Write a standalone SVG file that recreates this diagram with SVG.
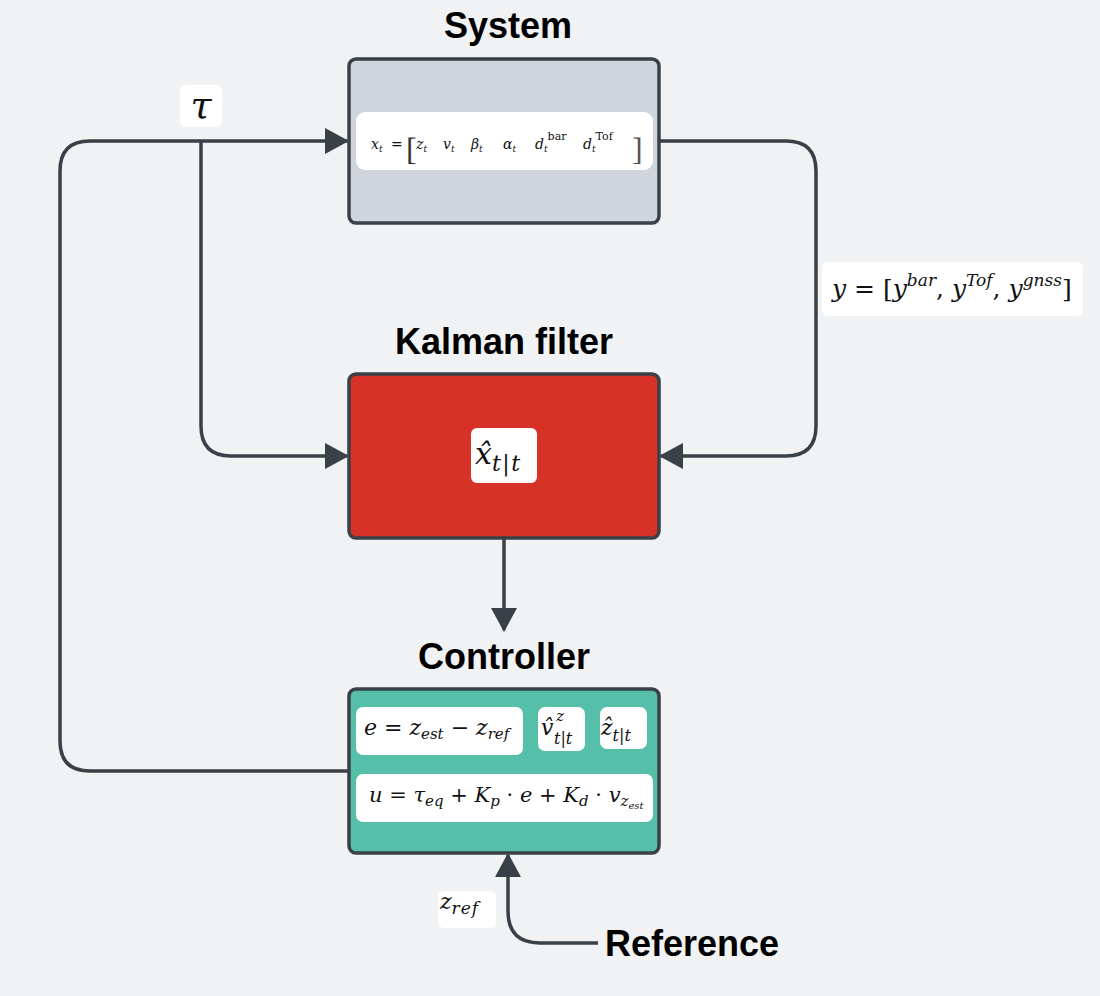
<svg xmlns="http://www.w3.org/2000/svg" width="1100" height="996" viewBox="0 0 1100 996">
<defs>
<marker id="arr" markerWidth="24" markerHeight="26" refX="22" refY="13" orient="auto" markerUnits="userSpaceOnUse">
<path d="M0,0 L24,13 L0,26 Z" fill="#3a4048"/>
</marker>
<style>
.title{font-family:"Liberation Sans",Arial,sans-serif;font-weight:bold;font-size:36px;fill:#000;text-anchor:middle}
.box{stroke:#3a4048;stroke-width:3.5}
.lbl{fill:#fff}
.m{font-family:"DejaVu Serif","Liberation Serif",serif;font-style:italic;fill:#111}
.r{font-style:normal}
.edge{fill:none;stroke:#3a4048;stroke-width:3.5}
</style>
</defs>
<rect width="1100" height="996" fill="#f1f2f4"/>

<g id="connectors">
<path class="edge" d="M349,771 H90 Q60,771 60,741 V171 Q60,141 90,141 H347" marker-end="url(#arr)"/>
<path class="edge" d="M201,141 V426 Q201,456 231,456 H347" marker-end="url(#arr)"/>
<path class="edge" d="M659,141 H786 Q816,141 816,171 V426 Q816,456 786,456 H661" marker-end="url(#arr)"/>
<path class="edge" d="M504,538 V630" marker-end="url(#arr)"/>
<path class="edge" d="M598,943 H540 Q508,943 508,911 V855" marker-end="url(#arr)"/>
</g>

<g id="tau-label">
<rect class="lbl" x="180" y="85" width="42" height="42" rx="6"/>
<text class="m" x="201" y="118" font-size="38" text-anchor="middle">τ</text>
</g>

<g id="y-label">
<rect class="lbl" x="822" y="262" width="261" height="54" rx="6"/>
<text class="m" x="832" y="297" font-size="25">y<tspan class="r"> = [</tspan>y<tspan dy="-11" font-size="17">bar</tspan><tspan dy="11" class="r">, </tspan>y<tspan dy="-11" font-size="17">Tof</tspan><tspan dy="11" class="r">, </tspan>y<tspan dy="-11" font-size="17">gnss</tspan><tspan dy="11" class="r">]</tspan></text>
</g>

<g id="zref-label">
<rect class="lbl" x="438" y="891" width="58" height="37" rx="6"/>
<text class="m" x="440" y="909" font-size="22">z<tspan dy="5" font-size="17" letter-spacing="1">ref</tspan></text>
</g>

<g id="system">
<text class="title" x="508" y="38">System</text>
<rect class="box" x="349" y="59" width="310" height="164" rx="7" fill="#d0d4dd"/>
<rect class="lbl" x="356" y="112" width="297" height="58" rx="9"/>
<text class="m" font-size="14" y="149">
<tspan x="371">x</tspan><tspan font-size="9" dy="3">t</tspan>
<tspan class="r" x="391" dy="-3">=</tspan>
<tspan x="416">z</tspan><tspan font-size="9" dy="3">t</tspan>
<tspan x="443" dy="-3">v</tspan><tspan font-size="9" dy="3">t</tspan>
<tspan x="471" dy="-3">β</tspan><tspan font-size="9" dy="3">t</tspan>
<tspan x="503" dy="-3">α</tspan><tspan font-size="9" dy="3">t</tspan>
<tspan x="535" dy="-3">d</tspan><tspan font-size="9" dy="3">t</tspan><tspan class="r" font-size="11" dy="-12">bar</tspan>
<tspan x="583" dy="9">d</tspan><tspan font-size="9" dy="3">t</tspan><tspan class="r" font-size="11" dy="-12">Tof</tspan>
</text>
<text class="r" font-family="Liberation Serif,serif" font-size="32" x="406" y="160" fill="#333">[</text>
<text class="r" font-family="Liberation Serif,serif" font-size="32" x="632" y="160" fill="#555">]</text>
</g>

<g id="kalman">
<text class="title" x="504" y="354">Kalman filter</text>
<rect class="box" x="349" y="374" width="310" height="164" rx="7" fill="#d63228"/>
<rect class="lbl" x="471" y="428" width="66" height="55" rx="6"/>
<text class="m" x="475" y="464" font-size="30">x̂<tspan dy="7" font-size="22" letter-spacing="1.5">t|t</tspan></text>
</g>

<g id="controller">
<text class="title" x="504" y="669">Controller</text>
<rect class="box" x="349" y="689" width="310" height="164" rx="7" fill="#55bfa9"/>
<rect class="lbl" x="356" y="707" width="167" height="48" rx="7"/>
<text class="m" x="364" y="735" font-size="22">e<tspan class="r"> = </tspan>z<tspan dy="4" font-size="15">est</tspan><tspan class="r" dy="-4"> − </tspan>z<tspan dy="4" font-size="15">ref</tspan></text>
<rect class="lbl" x="538" y="707" width="47" height="44" rx="7"/>
<text class="m" x="541" y="735" font-size="22">v̂</text>
<text class="m" x="556" y="721" font-size="15">z</text>
<text class="m" x="554" y="744" font-size="16">t|t</text>
<rect class="lbl" x="600" y="707" width="47" height="42" rx="7"/>
<text class="m" x="601" y="735" font-size="22">ẑ<tspan dy="6" font-size="16">t|t</tspan></text>
<rect class="lbl" x="356" y="774" width="297" height="48" rx="7"/>
<text class="m" x="369" y="802" font-size="21">u<tspan class="r"> = </tspan>τ<tspan dy="4" font-size="15">eq</tspan><tspan class="r" dy="-4"> + </tspan>K<tspan dy="4" font-size="15">p</tspan><tspan class="r" dy="-4"> · </tspan>e<tspan class="r"> + </tspan>K<tspan dy="4" font-size="15">d</tspan><tspan class="r" dy="-4"> · </tspan>v<tspan dy="4" font-size="15">z</tspan><tspan dy="3" font-size="10">est</tspan></text>
</g>

<g id="reference">
<text class="title" x="692" y="956">Reference</text>
</g>
</svg>
